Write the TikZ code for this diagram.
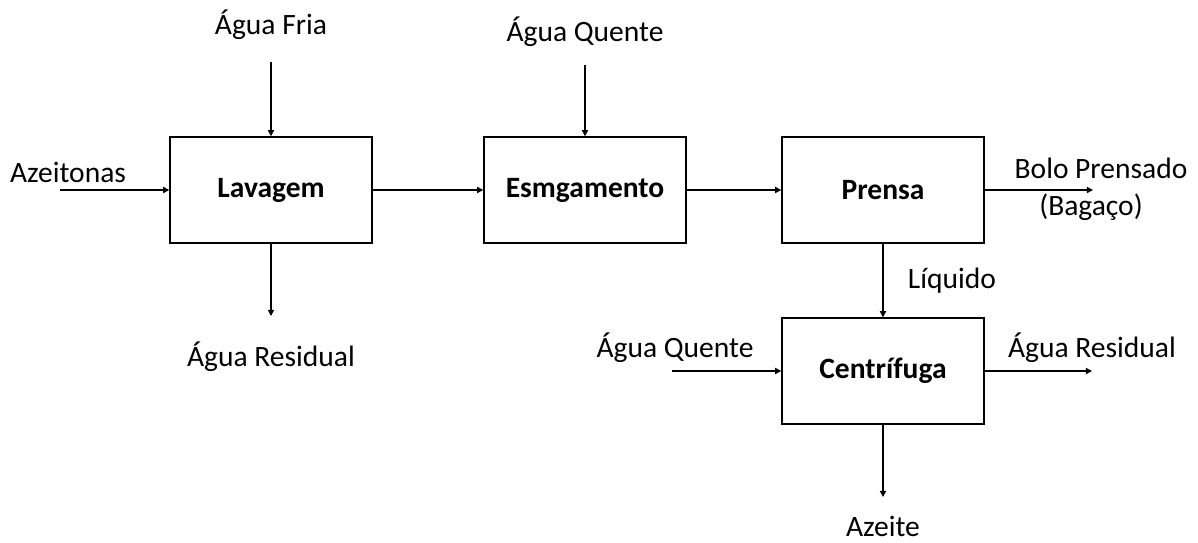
\documentclass[tikz,border=0pt]{standalone}
\usepackage{fontspec}
\setmainfont{Carlito}
\usetikzlibrary{arrows.meta, positioning}

\begin{document}
\begin{tikzpicture}[x=0.02cm, y=-0.02cm, >={Triangle[length=3.5pt, width=3.5pt]},
  every node/.style={font=\fontsize{16.8}{20}\selectfont},
  unit/.style={draw, line width=0.85pt, minimum width=4.04cm, minimum height=2.12cm,
    font=\fontsize{16.8}{20}\selectfont\bfseries},
  flow/.style={->, line width=0.75pt}]
\useasboundingbox (0,0) rectangle (1198,542);
% process units
\node[unit] (lav) at (271,190) {Lavagem};
\node[unit] (esm) at (585,190) {Esmgamento};
\node[unit] (pre) at (883,190) {Prensa};
\node[unit] (cen) at (883,371) {Centrífuga};
% stream labels
\node (fria) at (271,25) {Água Fria};
\node (quente) at (585,32) {Água Quente};
\node (azeitonas) at (68,172) {Azeitonas};
\node (residual) at (271,357) {Água Residual};
\node (bolo) at (1101,168) {Bolo Prensado};
\node (bagaco) at (1091,207) {(Bagaço)};
\node (liq) at (952,281) {Líquido};
\node (quente2) at (675,348) {Água Quente};
\node (residual2) at (1092,348) {Água Residual};
\node[inner sep=0pt] (azeite) at (883,526) {Azeite};
% free ends of the streams
\coordinate (friain) at (271,62);
\coordinate (quentein) at (585,65);
\coordinate (azin) at (60,190);
\coordinate (resout) at (271,316);
\coordinate (boloout) at (1093,190);
\coordinate (quente2in) at (672,371);
\coordinate (res2out) at (1092,371);
\coordinate (azeiteout) at (883,497);
% streams
\draw[flow] (friain) -- (lav);
\draw[flow] (azin) -- (lav);
\draw[flow] (lav) -- (resout);
\draw[flow] (lav) -- (esm);
\draw[flow] (quentein) -- (esm);
\draw[flow] (esm) -- (pre);
\draw[flow] (pre) -- (boloout);
\draw[flow] (pre) -- (cen);
\draw[flow] (quente2in) -- (cen);
\draw[flow] (cen) -- (res2out);
\draw[flow] (cen) -- (azeiteout);
\end{tikzpicture}
\end{document}
